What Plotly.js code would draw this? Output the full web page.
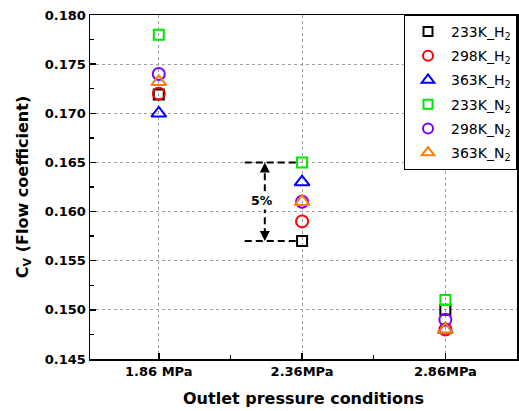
<!DOCTYPE html>
<html>
<head>
<meta charset="utf-8">
<script src="https://cdn.plot.ly/plotly-3.0.1.min.js"></script>
<style>
  html, body { margin: 0; padding: 0; background: #fff; }
  #chart { width: 519px; height: 411px; }
</style>
</head>
<body>
<div id="chart"></div>
<script>
// Outlet pressure conditions (category positions 0, 1, 2)
const conditions = ['1.86 MPa', '2.36MPa', '2.86MPa'];
const xPos = [0, 1, 2];

// Flow coefficient Cv for each gas / temperature
const cv233H2 = [0.1719, 0.157, 0.150];
const cv298H2 = [0.172, 0.159, 0.148];
const cv363H2 = [0.170, 0.163, 0.148];
const cv233N2 = [0.178, 0.165, 0.151];
const cv298N2 = [0.174, 0.161, 0.149];
const cv363N2 = [0.1732, 0.161, 0.148];

const seriesNames = ['233K_H<sub>2</sub>', '298K_H<sub>2</sub>', '363K_H<sub>2</sub>',
                     '233K_N<sub>2</sub>', '298K_N<sub>2</sub>', '363K_N<sub>2</sub>'];
const seriesValues = [cv233H2, cv298H2, cv363H2, cv233N2, cv298N2, cv363N2];
const seriesColors = ['#000000', '#ff0000', '#0000ff', '#00e600', '#8000ff', '#ff8000'];
const seriesSymbols = ['square-open', 'circle-open', 'triangle-up-open',
                       'square-open', 'circle-open', 'triangle-up-open'];
const markerSizes = [10, 12, 13, 10, 12, 13];
const legendSizes = [9, 10, 11, 9, 10, 11];

// Plotted markers (legend entries are drawn by the keys below)
const traces = seriesValues.map((vals, i) => ({
  type: 'scatter',
  mode: 'markers',
  x: xPos,
  y: vals,
  name: seriesNames[i],
  showlegend: false,
  marker: {
    symbol: seriesSymbols[i],
    size: markerSizes[i],
    color: seriesColors[i],
    line: { width: 2, color: seriesColors[i] }
  }
}));

// Legend keys with slightly smaller symbols
const keys = seriesValues.map((vals, i) => ({
  type: 'scatter',
  mode: 'markers',
  x: [null],
  y: [null],
  name: seriesNames[i],
  legendgroup: 'g' + i,
  marker: {
    symbol: seriesSymbols[i],
    size: legendSizes[i],
    color: seriesColors[i],
    line: { width: 2, color: seriesColors[i] }
  }
}));

// Spread bracket at 2.36 MPa: from the lowest to the highest Cv
const mid = seriesValues.map(v => v[1]);
const spreadTop = Math.max(...mid);
const spreadBot = Math.min(...mid);
const bx = 0.74;

const dashLine = { color: '#000', width: 2, dash: '7px,4px' };
const shapes = [
  { type: 'line', xref: 'x', yref: 'y', x0: 0.60, x1: 0.97, y0: spreadTop, y1: spreadTop, line: dashLine },
  { type: 'line', xref: 'x', yref: 'y', x0: 0.60, x1: 0.97, y0: spreadBot, y1: spreadBot, line: dashLine },
  { type: 'line', xref: 'x', yref: 'y', x0: bx, x1: bx, y0: spreadBot + 0.0006, y1: spreadTop - 0.0006, line: dashLine }
];

const annotations = [
  { x: bx, y: spreadTop, xref: 'x', yref: 'y', text: '', showarrow: true,
    ax: 0, ay: 9, arrowhead: 2, arrowsize: 1, arrowwidth: 2, arrowcolor: '#000', standoff: 0 },
  { x: bx, y: spreadBot, xref: 'x', yref: 'y', text: '', showarrow: true,
    ax: 0, ay: -9, arrowhead: 2, arrowsize: 1, arrowwidth: 2, arrowcolor: '#000', standoff: 0 },
  { x: bx - 0.02, y: (spreadTop + spreadBot) / 2 + 0.0001, xref: 'x', yref: 'y', text: '<b>5%</b>',
    showarrow: false, bgcolor: '#ffffff', borderpad: 1,
    font: { family: 'DejaVu Sans', size: 12.5, color: '#000' } }
];

const layout = {
  width: 519,
  height: 411,
  margin: { l: 90, r: 2, t: 15, b: 52 },
  paper_bgcolor: '#ffffff',
  plot_bgcolor: '#ffffff',
  font: { family: 'DejaVu Sans', color: '#000' },
  showlegend: true,
  legend: {
    x: 1, xanchor: 'right', y: 1, yanchor: 'top',
    bgcolor: '#ffffff', bordercolor: '#000', borderwidth: 1,
    font: { family: 'DejaVu Sans', size: 14, color: '#000' },
    tracegroupgap: 3,
    itemwidth: 36
  },
  xaxis: {
    range: [-0.48, 2.5],
    tickmode: 'array',
    tickvals: xPos,
    ticktext: conditions,
    ticks: 'inside', ticklen: 6, tickwidth: 1.5, tickcolor: '#000',
    minor: { tickvals: [0.5, 1.5], ticks: 'inside', ticklen: 4, tickwidth: 1.5, tickcolor: '#000', showgrid: false },
    showgrid: true, gridcolor: '#a0a0a0', griddash: 'dot', gridwidth: 1,
    showline: true, linecolor: '#000', linewidth: 1.5, mirror: true,
    zeroline: false,
    tickfont: { family: 'DejaVu Sans', size: 13, color: '#000', weight: 'bold' },
    title: { text: '<b>Outlet pressure conditions</b>', font: { family: 'DejaVu Sans', size: 16, color: '#000' }, standoff: 14 }
  },
  yaxis: {
    range: [0.145, 0.180],
    dtick: 0.005, tick0: 0.145,
    tickformat: '.3f',
    ticks: 'inside', ticklen: 6, tickwidth: 1.5, tickcolor: '#000',
    minor: { dtick: 0.0025, ticks: 'inside', ticklen: 4, tickwidth: 1.5, tickcolor: '#000', showgrid: false },
    showgrid: true, gridcolor: '#a0a0a0', griddash: 'dot', gridwidth: 1,
    showline: true, linecolor: '#000', linewidth: 1.5, mirror: true,
    zeroline: false,
    tickfont: { family: 'DejaVu Sans', size: 13, color: '#000', weight: 'bold' },
    title: { text: '<b>C<sub>V</sub> (Flow coefficient)</b>', font: { family: 'DejaVu Sans', size: 16, color: '#000' }, standoff: 12 }
  },
  shapes: shapes,
  annotations: annotations
};

Plotly.newPlot('chart', traces.concat(keys), layout, { displayModeBar: false, staticPlot: true });
</script>
</body>
</html>
